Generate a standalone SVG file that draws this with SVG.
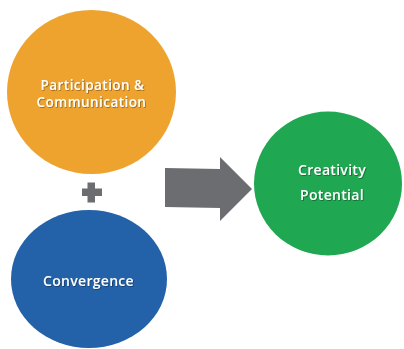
<svg xmlns="http://www.w3.org/2000/svg" width="404" height="349" viewBox="0 0 404 349">
<style>
.lbl{font-family:"Open Sans","Liberation Sans",sans-serif;font-weight:600;font-size:14px;fill:#ffffff;text-anchor:middle;letter-spacing:0.3px;filter:url(#ts)}
.sm{font-size:13.5px;letter-spacing:0.45px}
.gray{fill:#6b6d70}
</style>
<defs>
<filter id="ts" x="-10%" y="-30%" width="120%" height="160%">
<feDropShadow dx="0.8" dy="0.8" stdDeviation="0.6" flood-color="#000000" flood-opacity="0.4"/>
</filter>
</defs>
<rect width="404" height="349" fill="#ffffff"/>
<g id="participation">
<ellipse cx="91.5" cy="92" rx="84.5" ry="82" fill="#eea32f"/>
<text class="lbl sm"><tspan x="92.5" y="89.5">Participation &amp;</tspan><tspan x="91.5" y="106.5">Communication</tspan></text>
</g>
<g id="plus">
<rect class="gray" x="82" y="188.5" width="20" height="7.5"/>
<rect class="gray" x="87.5" y="182.5" width="7.5" height="20"/>
</g>
<g id="convergence">
<ellipse cx="89" cy="279" rx="78" ry="69" fill="#2361a8"/>
<text class="lbl" x="88.5" y="286">Convergence</text>
</g>
<g id="connectors">
<polygon class="gray" points="165,168 220,169 220,157 252,189 220,221 220,208 165,207"/>
</g>
<g id="creativity">
<ellipse cx="328" cy="183.5" rx="74" ry="72" fill="#1fa751"/>
<text class="lbl"><tspan x="332" y="175">Creativity</tspan><tspan x="332" y="200">Potential</tspan></text>
</g>
</svg>
